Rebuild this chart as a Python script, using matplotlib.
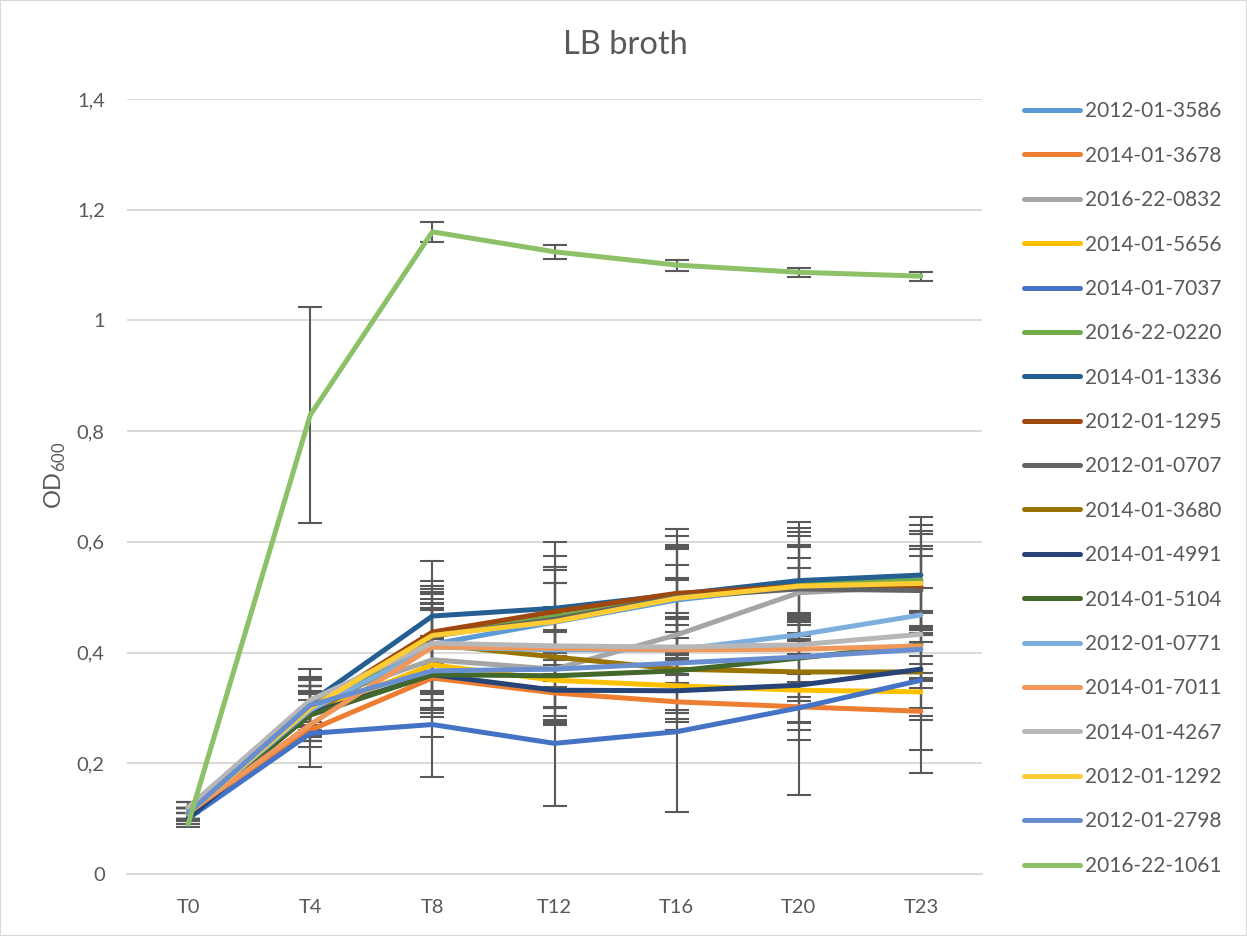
import matplotlib
matplotlib.use("Agg")
import matplotlib.pyplot as plt
from matplotlib.patches import Rectangle

plt.rcParams['font.family'] = ['Lato', 'DejaVu Sans']
plt.rcParams['mathtext.fontset'] = 'custom'
plt.rcParams['mathtext.rm'] = 'Lato'

timepoints = ["T0", "T4", "T8", "T12", "T16", "T20", "T23"]

strains = [
    "2012-01-3586", "2014-01-3678", "2016-22-0832", "2014-01-5656",
    "2014-01-7037", "2016-22-0220", "2014-01-1336", "2012-01-1295",
    "2012-01-0707", "2014-01-3680", "2014-01-4991", "2014-01-5104",
    "2012-01-0771", "2014-01-7011", "2014-01-4267", "2012-01-1292",
    "2012-01-2798", "2016-22-1061",
]

colors = [
    "#5B9BD5", "#ED7D31", "#A5A5A5", "#FFC000", "#4472C4", "#70AD47",
    "#255E91", "#9E480E", "#636363", "#997300", "#264478", "#43682B",
    "#7CAFDD", "#F1975A", "#B7B7B7", "#FFCD33", "#698ED0", "#8CC168",
]

od_3586 = [0.11, 0.300, 0.415, 0.455, 0.495, 0.520, 0.525]
od_3678 = [0.11, 0.260, 0.354, 0.327, 0.311, 0.302, 0.294]
od_0832 = [0.12, 0.310, 0.387, 0.370, 0.432, 0.508, 0.520]
od_5656 = [0.11, 0.290, 0.378, 0.350, 0.340, 0.332, 0.329]
od_7037 = [0.10, 0.254, 0.270, 0.236, 0.257, 0.300, 0.350]
od_0220 = [0.11, 0.290, 0.430, 0.465, 0.500, 0.525, 0.531]
od_1336 = [0.11, 0.310, 0.466, 0.480, 0.505, 0.530, 0.540]
od_1295 = [0.11, 0.300, 0.437, 0.474, 0.507, 0.520, 0.518]
od_0707 = [0.12, 0.300, 0.430, 0.460, 0.500, 0.515, 0.512]
od_3680 = [0.11, 0.290, 0.415, 0.392, 0.370, 0.365, 0.365]
od_4991 = [0.10, 0.290, 0.360, 0.332, 0.331, 0.341, 0.370]
od_5104 = [0.11, 0.287, 0.360, 0.358, 0.367, 0.390, 0.414]
od_0771 = [0.11, 0.296, 0.410, 0.405, 0.405, 0.432, 0.468]
od_7011 = [0.11, 0.270, 0.410, 0.408, 0.405, 0.406, 0.412]
od_4267 = [0.12, 0.314, 0.417, 0.412, 0.410, 0.414, 0.433]
od_1292 = [0.11, 0.300, 0.431, 0.456, 0.498, 0.520, 0.525]
od_2798 = [0.11, 0.305, 0.367, 0.370, 0.381, 0.392, 0.406]
od_1061 = [0.09, 0.829, 1.160, 1.124, 1.100, 1.087, 1.080]

sd_3586 = [0.01, 0.04, 0.09, 0.10, 0.10, 0.09, 0.09]
sd_3678 = [0.01, 0.03, 0.07, 0.05, 0.05, 0.06, 0.07]
sd_0832 = [0.01, 0.04, 0.09, 0.07, 0.10, 0.11, 0.10]
sd_5656 = [0.01, 0.04, 0.05, 0.05, 0.06, 0.06, 0.05]
sd_7037 = [0.01, 0.06, 0.095, 0.113, 0.145, 0.157, 0.167]
sd_0220 = [0.01, 0.05, 0.10, 0.11, 0.11, 0.10, 0.10]
sd_1336 = [0.01, 0.06, 0.10, 0.12, 0.118, 0.105, 0.105]
sd_1295 = [0.01, 0.05, 0.06, 0.08, 0.08, 0.07, 0.07]
sd_0707 = [0.01, 0.04, 0.08, 0.09, 0.09, 0.08, 0.08]
sd_3680 = [0.01, 0.05, 0.10, 0.09, 0.08, 0.09, 0.08]
sd_4991 = [0.01, 0.05, 0.06, 0.06, 0.07, 0.08, 0.07]
sd_5104 = [0.01, 0.04, 0.07, 0.08, 0.07, 0.07, 0.06]
sd_0771 = [0.01, 0.03, 0.11, 0.12, 0.13, 0.12, 0.12]
sd_7011 = [0.01, 0.03, 0.08, 0.07, 0.06, 0.06, 0.06]
sd_4267 = [0.01, 0.04, 0.06, 0.05, 0.05, 0.05, 0.04]
sd_1292 = [0.01, 0.04, 0.05, 0.07, 0.06, 0.05, 0.05]
sd_2798 = [0.01, 0.05, 0.12, 0.10, 0.09, 0.08, 0.07]
sd_1061 = [0.005, 0.195, 0.018, 0.013, 0.010, 0.008, 0.008]

means = [od_3586, od_3678, od_0832, od_5656, od_7037, od_0220, od_1336,
         od_1295, od_0707, od_3680, od_4991, od_5104, od_0771, od_7011,
         od_4267, od_1292, od_2798, od_1061]
errors = [sd_3586, sd_3678, sd_0832, sd_5656, sd_7037, sd_0220, sd_1336,
          sd_1295, sd_0707, sd_3680, sd_4991, sd_5104, sd_0771, sd_7011,
          sd_4267, sd_1292, sd_2798, sd_1061]

text_color = "#595959"
grid_color = "#D9D9D9"

fig = plt.figure(figsize=(12.47, 9.36), dpi=100)
fig.patches.append(Rectangle((0, 0), 1, 1, transform=fig.transFigure,
                             fill=False, edgecolor=grid_color, linewidth=1.5))
ax = fig.add_axes([127 / 1247, 1 - 874 / 936, (982 - 127) / 1247, (874 - 99) / 936])

x = list(range(len(timepoints)))
handles = []
for name, col, y, e in zip(strains, colors, means, errors):
    ax.errorbar(x, y, yerr=e, fmt='none', ecolor=text_color, elinewidth=1.5,
                capsize=8.5, capthick=1.5, zorder=2)
for i, (name, col, y) in enumerate(zip(strains, colors, means)):
    ln, = ax.plot(x, y, color=col, linewidth=3.6, label=name,
                  solid_capstyle='round', solid_joinstyle='round', zorder=3 + i * 0.01)
    handles.append(ln)

ax.set_xlim(-0.5, len(timepoints) - 0.5)
ax.set_ylim(0, 1.4)
ax.set_yticks([0, 0.2, 0.4, 0.6, 0.8, 1.0, 1.2, 1.4])
ax.set_yticklabels(["0", "0,2", "0,4", "0,6", "0,8", "1", "1,2", "1,4"])
ax.set_xticks(x)
ax.set_xticklabels(timepoints)
ax.tick_params(axis='both', length=0, colors=text_color, labelsize=14.5)
ax.tick_params(axis='y', pad=16)
ax.tick_params(axis='x', pad=18)
ax.grid(axis='y', color=grid_color, linewidth=1.4)
ax.set_axisbelow(True)
for s in ["top", "right", "left"]:
    ax.spines[s].set_visible(False)
ax.spines["bottom"].set_color(grid_color)
ax.spines["bottom"].set_linewidth(1.4)

fig.text(625 / 1247, 1 - 45 / 936, "LB broth", ha='center', va='center',
         fontsize=23.5, color=text_color)
fig.text(55 / 1247, 1 - 475 / 936, r"$\mathrm{OD}_{600}$", ha='center', va='center',
         rotation=90, fontsize=17, color=text_color)

leg = fig.legend(handles=handles, loc='upper left',
                 bbox_to_anchor=(1014 / 1247, 1 - 91 / 936),
                 frameon=False, fontsize=15, handlelength=2.65,
                 handletextpad=0.25, labelspacing=1.17, borderpad=0)
for t in leg.get_texts():
    t.set_color(text_color)

fig.savefig("out.png", dpi=100)
